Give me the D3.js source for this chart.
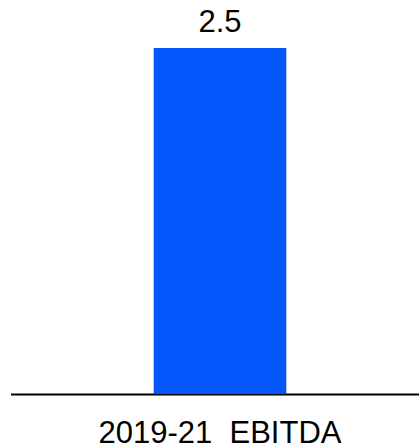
<!DOCTYPE html>
<html>
<head>
<meta charset="utf-8">
<script src="https://cdn.jsdelivr.net/npm/d3@7"></script>
<style>
  body { margin: 0; background: #fff; }
  text { font-family: "Liberation Sans", Arial, sans-serif; }
</style>
</head>
<body>
<div class="container"></div>
<script>
var categories = ["2019-21  EBITDA"];
var values = [2.5];
var valueLabels = ["2.5"];

var svgWidth = 419;
var svgHeight = 446;

var svg = d3.select(".container")
    .append("svg")
    .attr("width", svgWidth)
    .attr("height", svgHeight);

var xBandScale = d3.scaleBand()
    .domain(categories)
    .range([21, 419])
    .padding(0.5);

var yLinearScale = d3.scaleLinear()
    .domain([0, 2.5])
    .range([393.5, 48]);

// bars
svg.selectAll(".bar")
    .data(values)
    .enter()
    .append("rect")
    .classed("bar", true)
    .attr("x", (d, i) => xBandScale(categories[i]))
    .attr("width", xBandScale.bandwidth())
    .attr("y", d => yLinearScale(d))
    .attr("height", d => yLinearScale(0) - yLinearScale(d))
    .attr("fill", "#0556fa");

// value labels
svg.selectAll(".label")
    .data(values)
    .enter()
    .append("text")
    .attr("class", "label")
    .attr("x", (d, i) => xBandScale(categories[i]) + xBandScale.bandwidth() / 2)
    .attr("y", d => yLinearScale(d) - 16.5)
    .attr("text-anchor", "middle")
    .style("font-size", "31px")
    .attr("fill", "#000")
    .text((d, i) => valueLabels[i]);

// baseline
svg.append("line")
    .attr("x1", 11)
    .attr("x2", 419)
    .attr("y1", yLinearScale(0) + 1)
    .attr("y2", yLinearScale(0) + 1)
    .attr("stroke", "#000")
    .attr("stroke-width", 2);

// category labels
svg.selectAll(".cat")
    .data(categories)
    .enter()
    .append("text")
    .attr("class", "cat")
    .attr("x", d => xBandScale(d) + xBandScale.bandwidth() / 2)
    .attr("y", 442.5)
    .attr("text-anchor", "middle")
    .style("font-size", "31px")
    .style("white-space", "pre")
    .attr("fill", "#000")
    .text(d => d);
</script>
</body>
</html>
